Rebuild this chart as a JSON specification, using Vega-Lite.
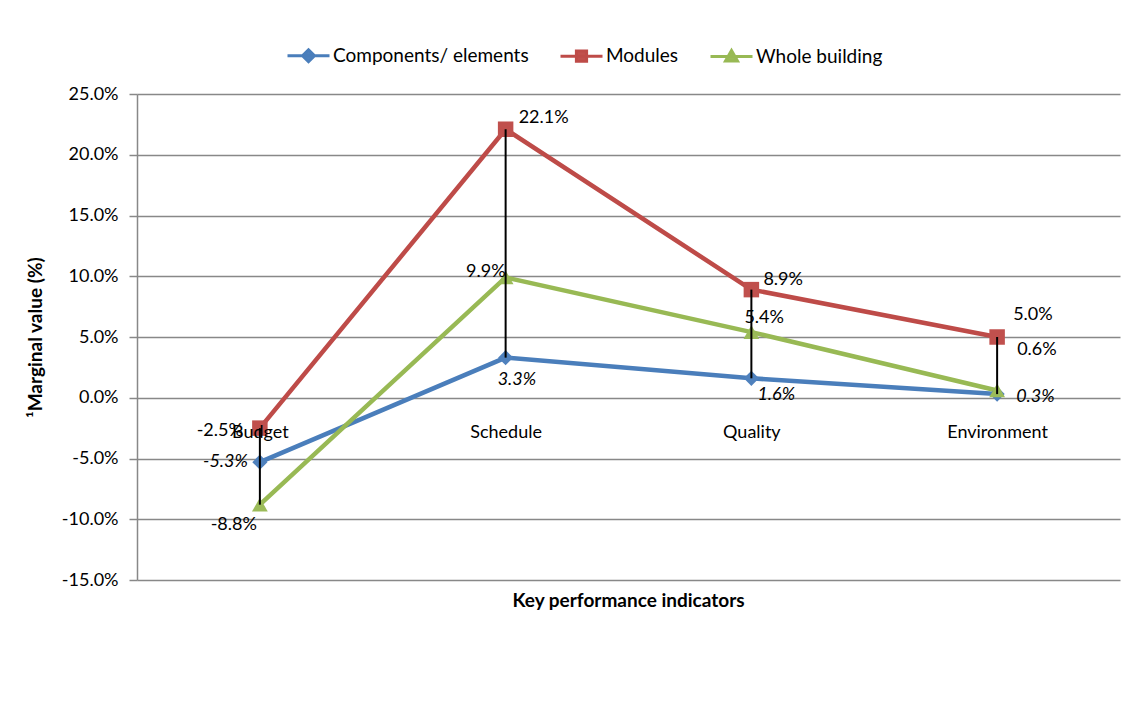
{
  "$schema": "https://vega.github.io/schema/vega-lite/v6.json",
  "width": 983,
  "height": 486,
  "autosize": "none",
  "padding": {"left": 137, "top": 94, "right": 22, "bottom": 130},
  "background": "white",
  "config": {
    "font": "Lato",
    "view": {"stroke": null},
    "locale": {"number": {"decimal": ".", "thousands": ",", "grouping": [3], "currency": ["$", ""], "minus": "-"}},
    "axis": {"labelColor": "#000000", "titleColor": "#000000"}
  },
  "data": {
    "values": [
      {"series": "Components/ elements", "category": "Budget", "value": -0.053},
      {"series": "Components/ elements", "category": "Schedule", "value": 0.033},
      {"series": "Components/ elements", "category": "Quality", "value": 0.016},
      {"series": "Components/ elements", "category": "Environment", "value": 0.003},
      {"series": "Modules", "category": "Budget", "value": -0.025},
      {"series": "Modules", "category": "Schedule", "value": 0.221},
      {"series": "Modules", "category": "Quality", "value": 0.089},
      {"series": "Modules", "category": "Environment", "value": 0.05},
      {"series": "Whole building", "category": "Budget", "value": -0.088},
      {"series": "Whole building", "category": "Schedule", "value": 0.099},
      {"series": "Whole building", "category": "Quality", "value": 0.054},
      {"series": "Whole building", "category": "Environment", "value": 0.006}
    ]
  },
  "encoding": {
    "x": {
      "field": "category",
      "type": "nominal",
      "sort": ["Budget", "Schedule", "Quality", "Environment"],
      "scale": {"type": "point", "padding": 0.5},
      "axis": {
        "title": "Key performance indicators",
        "labelAngle": 0,
        "labelFontSize": 18,
        "labelBaseline": "middle",
        "labelPadding": -148,
        "ticks": false,
        "tickSize": 0,
        "domain": false,
        "grid": false,
        "titleFontSize": 19,
        "titleFontWeight": "bold",
        "titleX": 491,
        "titleY": 20,
        "titleAlign": "center",
        "titleBaseline": "middle",
        "zindex": 1
      }
    }
  },
  "layer": [
    {
      "mark": {"type": "point", "filled": true, "opacity": 0, "strokeWidth": 3},
      "encoding": {
        "y": {
          "field": "value",
          "type": "quantitative",
          "scale": {"domain": [-0.15, 0.25], "nice": false, "zero": false},
          "axis": {
            "values": [-0.15, -0.1, -0.05, 0, 0.05, 0.1, 0.15, 0.2, 0.25],
            "format": ".1%",
            "title": "¹Marginal value (%)",
            "grid": true,
            "gridColor": "#888888",
            "gridWidth": 1.5,
            "domainColor": "#888888",
            "domainWidth": 1.5,
            "tickColor": "#888888",
            "tickWidth": 1.5,
            "tickSize": 8,
            "labelPadding": 11,
            "labelFontSize": 18,
            "titleFontSize": 19,
            "titleFontWeight": "bold",
            "titleAngle": -90,
            "titleX": -102,
            "titleY": 243,
            "titleAlign": "center",
            "titleBaseline": "middle"
          }
        },
        "fill": {
          "field": "series",
          "type": "nominal",
          "scale": {"domain": ["Components/ elements", "Modules", "Whole building"], "range": ["#4F81BD", "#C0504D", "#9BBB59"]},
          "legend": {
            "title": null,
            "orient": "none",
            "direction": "horizontal",
            "legendX": 144,
            "legendY": -48,
            "labelFontSize": 19,
            "labelColor": "#000000",
            "labelLimit": 400,
            "symbolOpacity": 1,
            "symbolStrokeWidth": 3,
            "symbolSize": 144,
            "symbolOffset": 18,
            "labelOffset": 15,
            "columnPadding": 25
          }
        },
        "stroke": {
          "field": "series",
          "type": "nominal",
          "scale": {"domain": ["Components/ elements", "Modules", "Whole building"], "range": ["#4A7EBB", "#BE4B48", "#98B954"]},
          "legend": {
            "title": null,
            "orient": "none",
            "direction": "horizontal",
            "legendX": 144,
            "legendY": -48,
            "labelFontSize": 19,
            "labelColor": "#000000",
            "labelLimit": 400,
            "symbolOpacity": 1,
            "symbolStrokeWidth": 3,
            "symbolSize": 144,
            "symbolOffset": 18,
            "labelOffset": 15,
            "columnPadding": 25
          }
        },
        "shape": {
          "field": "series",
          "type": "nominal",
          "scale": {
            "domain": ["Components/ elements", "Modules", "Whole building"],
            "range": [
              "M-3.5,0H3.5M0,-1L1,0L0,1L-1,0Z",
              "M-3.5,0H3.5M-0.85,-0.85H0.85V0.85H-0.85Z",
              "M-3.5,0H3.5M0,-1L1,0.75H-1Z"
            ]
          },
          "legend": {
            "title": null,
            "orient": "none",
            "direction": "horizontal",
            "legendX": 144,
            "legendY": -48,
            "labelFontSize": 19,
            "labelColor": "#000000",
            "labelLimit": 400,
            "symbolOpacity": 1,
            "symbolStrokeWidth": 3,
            "symbolSize": 144,
            "symbolOffset": 18,
            "labelOffset": 15,
            "columnPadding": 25
          }
        }
      }
    },
    {
      "mark": {"type": "line", "strokeWidth": 4.5},
      "encoding": {
        "y": {"field": "value", "type": "quantitative"},
        "stroke": {"field": "series", "type": "nominal", "legend": null}
      }
    },
    {
      "transform": [{"filter": "datum.series === 'Components/ elements'"}],
      "mark": {"type": "point", "shape": "diamond", "filled": true, "opacity": 1, "size": 230, "fill": "#4F81BD"},
      "encoding": {"y": {"field": "value", "type": "quantitative"}}
    },
    {
      "transform": [{"filter": "datum.series === 'Modules'"}],
      "mark": {"type": "point", "shape": "square", "filled": true, "opacity": 1, "size": 240, "fill": "#C0504D"},
      "encoding": {"y": {"field": "value", "type": "quantitative"}}
    },
    {
      "transform": [{"filter": "datum.series === 'Whole building'"}],
      "mark": {"type": "point", "shape": "triangle-up", "filled": true, "opacity": 1, "size": 250, "fill": "#9BBB59"},
      "encoding": {"y": {"field": "value", "type": "quantitative"}}
    },
    {
      "mark": {"type": "rule", "color": "#000000", "strokeWidth": 2},
      "encoding": {
        "y": {"aggregate": "max", "field": "value", "type": "quantitative"},
        "y2": {"aggregate": "min", "field": "value"}
      }
    },
    {
      "transform": [{"filter": "datum.series === 'Components/ elements'"}],
      "mark": {
        "type": "text",
        "fontSize": 18,
        "fontStyle": "italic",
        "baseline": "middle",
        "color": "#000000",
        "align": {"expr": "datum.category === 'Budget' ? 'right' : 'left'"},
        "dx": {"expr": "datum.category === 'Budget' ? -12 : datum.category === 'Schedule' ? -8 : datum.category === 'Quality' ? 6 : 19"},
        "dy": {"expr": "datum.category === 'Budget' ? 0 : datum.category === 'Schedule' ? 22 : datum.category === 'Quality' ? 17 : 3"}
      },
      "encoding": {
        "y": {"field": "value", "type": "quantitative"},
        "text": {"field": "value", "type": "quantitative", "format": ".1%"}
      }
    },
    {
      "transform": [{"filter": "datum.series === 'Modules'"}],
      "mark": {
        "type": "text",
        "fontSize": 18,
        "baseline": "middle",
        "color": "#000000",
        "align": {"expr": "datum.category === 'Budget' ? 'right' : 'left'"},
        "dx": {"expr": "datum.category === 'Budget' ? -17 : datum.category === 'Schedule' ? 13 : datum.category === 'Quality' ? 12 : 16"},
        "dy": {"expr": "datum.category === 'Budget' ? 3 : datum.category === 'Schedule' ? -11 : datum.category === 'Quality' ? -10 : -22"}
      },
      "encoding": {
        "y": {"field": "value", "type": "quantitative"},
        "text": {"field": "value", "type": "quantitative", "format": ".1%"}
      }
    },
    {
      "transform": [{"filter": "datum.series === 'Whole building'"}],
      "mark": {
        "type": "text",
        "fontSize": 18,
        "baseline": "middle",
        "color": "#000000",
        "align": {"expr": "datum.category === 'Budget' || datum.category === 'Schedule' ? 'right' : 'left'"},
        "dx": {"expr": "datum.category === 'Budget' ? -3 : datum.category === 'Schedule' ? 0 : datum.category === 'Quality' ? -7 : 20"},
        "dy": {"expr": "datum.category === 'Budget' ? 20 : datum.category === 'Schedule' ? -5 : datum.category === 'Quality' ? -14 : -40"}
      },
      "encoding": {
        "y": {"field": "value", "type": "quantitative"},
        "text": {"field": "value", "type": "quantitative", "format": ".1%"}
      }
    }
  ]
}
